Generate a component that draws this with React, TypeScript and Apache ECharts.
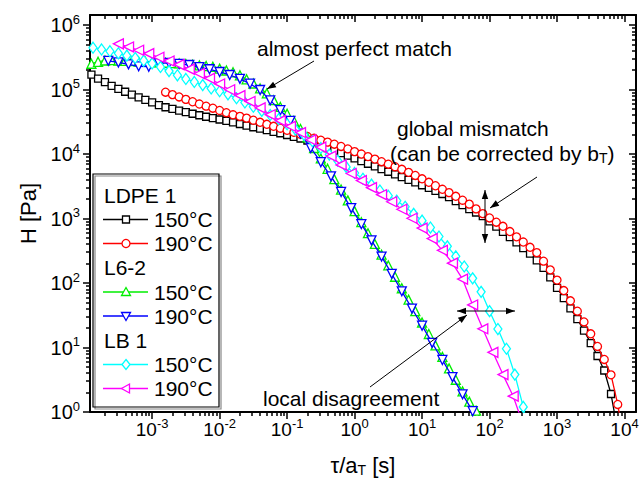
import { useEffect, useRef } from "react";
import * as echarts from "echarts";

const FONT = "'Liberation Sans', Arial, Helvetica, sans-serif";

// relaxation-time grids (s); 10, 8 and ~6.7 points per decade
const tau10 = [
  1.26e-4, 1.58e-4, 2.0e-4, 2.51e-4, 3.16e-4, 3.98e-4, 5.01e-4, 6.31e-4, 7.94e-4,
  1.0e-3, 1.26e-3, 1.58e-3, 2.0e-3, 2.51e-3, 3.16e-3, 3.98e-3, 5.01e-3, 6.31e-3, 7.94e-3,
  1.0e-2, 1.26e-2, 1.58e-2, 2.0e-2, 2.51e-2, 3.16e-2, 3.98e-2, 5.01e-2, 6.31e-2, 7.94e-2,
  0.1, 0.126, 0.158, 0.2, 0.251, 0.316, 0.398, 0.501, 0.631, 0.794,
  1.0, 1.26, 1.58, 2.0, 2.51, 3.16, 3.98, 5.01, 6.31, 7.94,
  10, 12.6, 15.8, 20, 25.1, 31.6, 39.8, 50.1, 63.1, 79.4,
  100, 126, 158, 200, 251, 316, 398, 501, 631, 794,
  1000, 1260, 1580, 2000, 2510, 3160, 3980, 5010, 6310, 7940,
  10000,
];
const tau8 = [
  1.33e-4, 1.78e-4, 2.37e-4, 3.16e-4, 4.22e-4, 5.62e-4, 7.5e-4,
  1.0e-3, 1.33e-3, 1.78e-3, 2.37e-3, 3.16e-3, 4.22e-3, 5.62e-3, 7.5e-3,
  1.0e-2, 1.33e-2, 1.78e-2, 2.37e-2, 3.16e-2, 4.22e-2, 5.62e-2, 7.5e-2,
  0.1, 0.133, 0.178, 0.237, 0.316, 0.422, 0.562, 0.75,
  1.0, 1.33, 1.78, 2.37, 3.16, 4.22, 5.62, 7.5,
  10, 13.3, 17.8, 23.7, 31.6, 42.2, 56.2, 75,
  100, 133, 178, 237, 316, 422,
];
const tau15 = [
  2.24e-4, 3.16e-4, 4.47e-4, 6.31e-4, 8.91e-4, 1.26e-3, 1.78e-3, 2.51e-3, 3.55e-3,
  5.01e-3, 7.08e-3, 1.0e-2, 1.41e-2, 2.0e-2, 2.82e-2, 3.98e-2, 5.62e-2, 7.94e-2,
  0.112, 0.158, 0.224, 0.316, 0.447, 0.631, 0.891, 1.26, 1.78, 2.51, 3.55, 5.01,
  7.08, 10.0, 14.1, 20.0, 28.2, 39.8, 56.2, 79.4, 112, 158, 224, 316,
];

// H (Pa)
const ldpe150H = [
  1.7e5, 1.48e5, 1.3e5, 1.14e5, 1.02e5, 9.23e4, 8.34e4, 7.55e4, 6.9e4, 6.3e4,
  5.74e4, 5.31e4, 5.0e4, 4.72e4, 4.45e4, 4.21e4, 3.99e4, 3.78e4, 3.6e4, 3.43e4,
  3.27e4, 3.1e4, 2.92e4, 2.75e4, 2.6e4, 2.47e4, 2.34e4, 2.21e4, 2.1e4, 1.97e4,
  1.85e4, 1.74e4, 1.62e4, 1.48e4, 1.35e4, 1.24e4, 1.13e4, 1.03e4, 9.42e3, 8.57e3,
  7.78e3, 7.06e3, 6.43e3, 5.83e3, 5.31e3, 4.82e3, 4.38e3, 3.98e3, 3.62e3, 3.28e3,
  2.98e3, 2.69e3, 2.4e3, 2.14e3, 1.86e3, 1.61e3, 1.4e3, 1.24e3, 1.09e3, 904,
  748, 619, 514, 427, 348, 285, 224, 172, 122, 84.1,
  58.2, 40.4, 27.5, 18.3, 11.7, 7.38, 4.4, 1.9, 0.5,
];
const ldpe190H = [
  9.08e4, 8.34e4, 7.67e4, 7.03e4, 6.46e4, 5.96e4, 5.52e4, 5.13e4, 4.73e4,
  4.37e4, 4.06e4, 3.83e4, 3.6e4, 3.34e4, 3.1e4, 2.89e4, 2.69e4, 2.51e4, 2.33e4,
  2.17e4, 2.02e4, 1.87e4, 1.76e4, 1.64e4, 1.53e4, 1.42e4, 1.31e4, 1.2e4, 1.09e4,
  1.0e4, 9.12e3, 8.34e3, 7.6e3, 6.95e3, 6.35e3, 5.79e3, 5.2e3, 4.65e3, 4.13e3,
  3.64e3, 3.22e3, 2.84e3, 2.52e3, 2.21e3, 1.92e3, 1.67e3, 1.41e3, 1.19e3, 1.02e3,
  877, 757, 628, 520, 432, 358, 296, 218, 160, 111,
  76.4, 53.0, 36.6, 24.9, 16.3, 10.4, 6.53, 3.77, 1.31, 0.32,
];
const l62_150H = [
  2.51e5, 2.69e5, 2.82e5, 2.85e5, 2.82e5, 2.79e5, 2.75e5, 2.72e5, 2.69e5, 2.66e5,
  2.63e5, 2.6e5, 2.57e5, 2.54e5, 2.49e5, 2.43e5, 2.37e5, 2.31e5, 2.25e5, 2.11e5,
  1.97e5, 1.85e5, 1.66e5, 1.44e5, 1.24e5, 1.04e5, 8.73e4, 6.84e4, 5.37e4, 4.21e4,
  3.27e4, 2.44e4, 1.81e4, 1.24e4, 8.53e3, 5.9e3, 4.08e3, 2.81e3, 1.91e3, 1.3e3,
  877, 592, 403, 275, 187, 125, 83.0, 55.2, 36.6, 24.4,
  16.2, 10.8, 7.16, 4.75, 3.16, 2.09, 1.45, 1.05, 0.63,
];
const l62_190H = [
  2.79e5, 2.63e5, 2.45e5, 2.29e5, 2.26e5, 2.57e5, 2.58e5, 2.49e5, 2.4e5, 2.23e5,
  2.06e5, 1.87e5, 1.68e5, 1.46e5, 1.23e5, 9.82e4, 6.79e4, 4.78e4, 3.27e4, 2.07e4,
  1.24e4, 7.46e3, 4.51e3, 2.58e3, 1.45e3, 817, 458, 257, 139, 74.3,
  40.2, 21.8, 11.8, 6.41, 3.48, 1.88, 1.03, 0.56,
];
const lb1_150H = [
  4.45e5, 4.18e5, 3.93e5, 3.64e5, 3.35e5, 3.08e5, 2.8e5, 2.53e5,
  2.24e5, 1.93e5, 1.66e5, 1.46e5, 1.31e5, 1.17e5, 1.04e5, 9.4e4,
  8.43e4, 7.33e4, 6.3e4, 5.4e4, 4.66e4, 4.02e4, 3.47e4, 2.89e4,
  2.39e4, 1.98e4, 1.58e4, 1.24e4, 9.79e3, 7.85e3, 6.31e3, 5.09e3,
  4.13e3, 3.35e3, 2.72e3, 2.25e3, 1.89e3, 1.52e3, 1.18e3, 927,
  724, 526, 370, 259, 180, 118, 72.9, 36.6,
  19.3, 9.55, 3.8, 1.2, 0.32,
];
const lb1_190H = [
  5.11e5, 4.57e5, 4.06e5, 3.6e5, 3.16e5, 2.77e5, 2.43e5, 2.07e5, 1.77e5, 1.49e5,
  1.22e5, 9.91e4, 8.05e4, 6.53e4, 5.19e4, 4.07e4, 3.29e4, 2.69e4, 2.15e4, 1.66e4,
  1.28e4, 9.29e3, 6.78e3, 4.98e3, 3.87e3, 3.01e3, 2.34e3, 1.82e3, 1.39e3, 1.01e3,
  710, 488, 321, 203, 115, 45.7, 19.5, 8.41, 3.8, 1.76, 0.63,
];

const xTickValues = [1e-3, 1e-2, 1e-1, 1, 10, 100, 1e3, 1e4];
const yTickValues = [1, 10, 100, 1e3, 1e4, 1e5, 1e6];
const xRange = [1.2e-4, 1.48e4];
const yRange = [1, 1.43e6];

const seriesMeta = [
  { group: "LDPE 1", temp: "150°C", color: "#000000", symbol: "rect", size: 7, rotate: 0, tau: tau10, start: 0, H: ldpe150H, shape: "square" },
  { group: "LDPE 1", temp: "190°C", color: "#ff0000", symbol: "circle", size: 8, rotate: 0, tau: tau10, start: 11, H: ldpe190H, shape: "circle" },
  { group: "L6-2", temp: "150°C", color: "#00ee00", symbol: "triangle", size: 9, rotate: 0, tau: tau10, start: 0, H: l62_150H, shape: "up" },
  { group: "L6-2", temp: "190°C", color: "#0000ff", symbol: "triangle", size: 9, rotate: 180, tau: tau15, start: 0, H: l62_190H, shape: "down" },
  { group: "LB 1", temp: "150°C", color: "#00ffff", symbol: "diamond", size: [8, 11], rotate: 0, tau: tau8, start: 0, H: lb1_150H, shape: "diamond" },
  { group: "LB 1", temp: "190°C", color: "#ff00ff", symbol: "triangle", size: 10, rotate: 90, tau: tau15, start: 1, H: lb1_190H, shape: "left" },
];

const L = Math.log10;
const xMin = L(xRange[0]), xMax = L(xRange[1]);
const yMin = L(yRange[0]), yMax = L(yRange[1]);
const xMajor = xTickValues.map(L);
const yMajor = yTickValues.map(L);
const minor = (lo: number, hi: number) => {
  const out: number[] = [];
  for (let k = Math.floor(lo); k <= Math.ceil(hi); k++)
    for (let m = 2; m <= 9; m++) {
      const v = k + L(m);
      if (v > lo && v < hi) out.push(v);
    }
  return out;
};
const xMinor = minor(xMin, xMax);
const yMinor = minor(yMin, yMax);

const supFmt = (v: number) => `{b|10}{s|${Math.round(v)}}`;

function head(tx: number, ty: number, fx: number, fy: number, len = 9, half = 3.2) {
  const dx = tx - fx, dy = ty - fy;
  const d = Math.hypot(dx, dy);
  const ux = dx / d, uy = dy / d;
  const bx = tx - ux * len, by = ty - uy * len;
  return {
    type: "polygon", z: 100, silent: true,
    shape: { points: [[tx, ty], [bx - uy * half, by + ux * half], [bx + uy * half, by - ux * half]] },
    style: { fill: "#000" },
  };
}
function arrow(x1: number, y1: number, x2: number, y2: number, both = false) {
  const els: any[] = [
    { type: "line", z: 100, silent: true, shape: { x1, y1, x2, y2 }, style: { stroke: "#000", lineWidth: 1 } },
    head(x2, y2, x1, y1),
  ];
  if (both) els.push(head(x1, y1, x2, y2));
  return els;
}
function legendMarker(shape: string, cx: number, cy: number, color: string) {
  const style = { fill: "#fff", stroke: color, lineWidth: 1.3 };
  const base = { z: 101, silent: true, style };
  switch (shape) {
    case "square":
      return { ...base, type: "rect", shape: { x: cx - 3.5, y: cy - 3.5, width: 7, height: 7 } };
    case "circle":
      return { ...base, type: "circle", shape: { cx, cy, r: 4 } };
    case "up":
      return { ...base, type: "polygon", shape: { points: [[cx, cy - 4.5], [cx - 4.5, cy + 3.5], [cx + 4.5, cy + 3.5]] } };
    case "down":
      return { ...base, type: "polygon", shape: { points: [[cx, cy + 4.5], [cx - 4.5, cy - 3.5], [cx + 4.5, cy - 3.5]] } };
    case "diamond":
      return { ...base, type: "polygon", shape: { points: [[cx, cy - 5], [cx + 4, cy], [cx, cy + 5], [cx - 4, cy]] } };
    default:
      return { ...base, type: "polygon", shape: { points: [[cx - 4.5, cy], [cx + 3.5, cy - 4.5], [cx + 3.5, cy + 4.5]] } };
  }
}
function text(str: string, x: number, y: number, extra: any = {}) {
  return {
    type: "text", x, y, z: 101, silent: true,
    style: { text: str, fill: "#000", fontSize: 21, fontFamily: FONT, textVerticalAlign: "middle", ...extra },
  };
}

function buildGraphic() {
  const els: any[] = [];
  // legend frame
  els.push({ type: "rect", z: 99, silent: true, shape: { x: 95, y: 176, width: 126, height: 233 }, style: { fill: "none", stroke: "#888", lineWidth: 1.2 } });
  els.push({ type: "rect", z: 99, silent: true, shape: { x: 93, y: 174, width: 126, height: 233 }, style: { fill: "none", stroke: "#000", lineWidth: 1.2 } });
  let y = 195;
  let lastGroup = "";
  for (const s of seriesMeta) {
    if (s.group !== lastGroup) {
      els.push(text(s.group, 104, y));
      y += 24.5;
      lastGroup = s.group;
    }
    els.push({ type: "line", z: 100, silent: true, shape: { x1: 103, y1: y, x2: 148, y2: y }, style: { stroke: s.color, lineWidth: 1.5 } });
    els.push(legendMarker(s.shape, 126, y, s.color));
    els.push(text(s.temp, 154, y));
    y += 24;
  }
  // annotations
  els.push(text("almost perfect match", 257, 48));
  els.push(...arrow(314, 61, 267, 89));
  els.push(text("global mismatch", 397, 128));
  els.push(
    text("{n|(can be corrected by b}{s|T}{n|)}", 390, 153, {
      rich: { n: { fontSize: 21, fontFamily: FONT, fill: "#000" }, s: { fontSize: 14, fontFamily: FONT, fill: "#000", padding: [10, 0, 0, 0] } },
    })
  );
  els.push(...arrow(537, 177, 490, 208));
  els.push(...arrow(485, 190, 485, 243, true));
  els.push(text("local disagreement", 263, 398));
  els.push(...arrow(370, 387, 467, 315));
  els.push(...arrow(457, 311, 515, 311, true));
  return els;
}

function buildOption(): any {
  const axisLine = { show: true, onZero: false, lineStyle: { color: "#000", width: 2 } };
  const noLine = { show: false, onZero: false };
  const tickStyle = { color: "#000", width: 1.5 };
  const xRich = {
    b: { fontSize: 19, fontFamily: FONT, color: "#000" },
    s: { fontSize: 13, fontFamily: FONT, color: "#000", padding: [0, 0, 11, 0] },
  };
  const yRich = {
    b: { fontSize: 20, fontFamily: FONT, color: "#000" },
    s: { fontSize: 13, fontFamily: FONT, color: "#000", padding: [0, 0, 12, 0] },
  };
  const xBase = { type: "value", min: xMin, max: xMax, splitLine: { show: false } };
  const yBase = { type: "value", min: yMin, max: yMax, splitLine: { show: false } };
  return {
    animation: false,
    backgroundColor: "#fff",
    grid: { left: 90, right: 7, top: 15, bottom: 69, containLabel: false },
    xAxis: [
      {
        ...xBase, position: "bottom", axisLine,
        axisTick: { show: true, inside: false, length: 7, lineStyle: tickStyle, customValues: xMajor },
        axisLabel: { show: true, margin: 5, customValues: xMajor, formatter: supFmt, rich: xRich },
        name: "{n|τ/a}{s|T}{n| [s]}", nameLocation: "middle", nameGap: 42,
        nameTextStyle: {
          rich: {
            n: { fontSize: 22, fontFamily: FONT, color: "#000" },
            s: { fontSize: 14, fontFamily: FONT, color: "#000", padding: [9, 0, 0, 0] },
          },
        },
      },
      { ...xBase, position: "bottom", axisLine: noLine, axisTick: { show: true, inside: false, length: 4, lineStyle: tickStyle, customValues: xMinor }, axisLabel: { show: false } },
      { ...xBase, position: "top", axisLine, axisTick: { show: true, inside: true, length: 7, lineStyle: tickStyle, customValues: xMajor }, axisLabel: { show: false } },
      { ...xBase, position: "top", axisLine: noLine, axisTick: { show: true, inside: true, length: 4, lineStyle: tickStyle, customValues: xMinor }, axisLabel: { show: false } },
    ],
    yAxis: [
      {
        ...yBase, position: "left", axisLine,
        axisTick: { show: true, inside: false, length: 7, lineStyle: tickStyle, customValues: yMajor },
        axisLabel: { show: true, margin: 10, customValues: yMajor, formatter: supFmt, rich: yRich },
        name: "H [Pa]", nameLocation: "middle", nameGap: 49,
        nameTextStyle: { fontSize: 22, fontFamily: FONT, color: "#000" },
      },
      { ...yBase, position: "left", axisLine: noLine, axisTick: { show: true, inside: false, length: 4, lineStyle: tickStyle, customValues: yMinor }, axisLabel: { show: false } },
      { ...yBase, position: "right", axisLine, axisTick: { show: true, inside: true, length: 7, lineStyle: tickStyle, customValues: yMajor }, axisLabel: { show: false } },
      { ...yBase, position: "right", axisLine: noLine, axisTick: { show: true, inside: true, length: 4, lineStyle: tickStyle, customValues: yMinor }, axisLabel: { show: false } },
    ],
    series: seriesMeta.map((s, i) => ({
      type: "line",
      name: `${s.group} ${s.temp}`,
      xAxisIndex: 0,
      yAxisIndex: 0,
      data: s.H.map((h, j) => [L(s.tau[s.start + j]), L(h)]),
      symbol: s.symbol,
      symbolSize: s.size,
      symbolRotate: s.rotate,
      showSymbol: true,
      showAllSymbol: true,
      clip: true,
      z: 2 + i,
      lineStyle: { color: s.color, width: 1.3 },
      itemStyle: { color: "#fff", borderColor: s.color, borderWidth: 1.3 },
      emphasis: { disabled: true },
    })),
    graphic: { elements: buildGraphic() },
  };
}

export default function App() {
  const ref = useRef<HTMLDivElement>(null);
  useEffect(() => {
    const chart = echarts.init(ref.current!, null, { renderer: "svg" });
    chart.setOption(buildOption());
    return () => chart.dispose();
  }, []);
  return <div ref={ref} style={{ position: "absolute", left: 0, top: 0, width: 643, height: 482, background: "#fff" }} />;
}
